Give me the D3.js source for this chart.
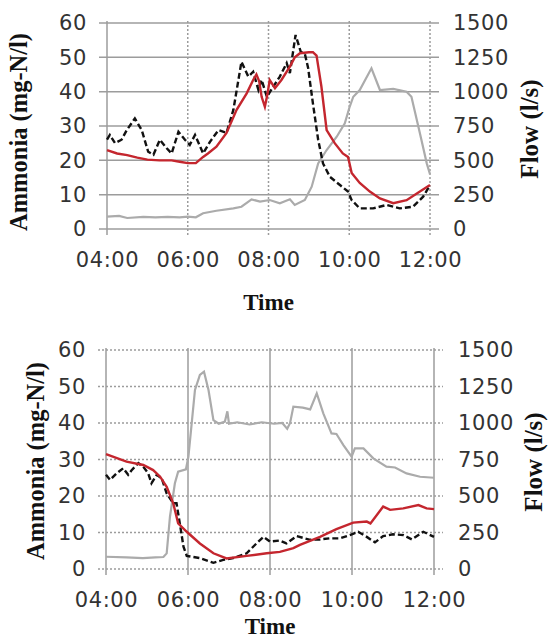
<!DOCTYPE html>
<html>
<head>
<meta charset="utf-8">
<script src="https://cdn.jsdelivr.net/npm/d3@7"></script>
<style>
  body { margin: 0; background: #fff; }
  .tick text { font-family: "DejaVu Sans", Verdana, sans-serif; font-size: 21px; fill: #333; letter-spacing: 0.6px; }
  .title { font-family: "Liberation Serif", "Times New Roman", serif; font-weight: bold; fill: #111; }
</style>
</head>
<body>
<svg id="chart" width="549" height="641"></svg>
<script>
// time in clock hours
var timeTicks = [4, 6, 8, 10, 12];
var timeLabels = ["04:00", "06:00", "08:00", "10:00", "12:00"];
var ammoniaTicks = [0, 10, 20, 30, 40, 50, 60];
var flowTicks = [0, 250, 500, 750, 1000, 1250, 1500];

// top panel
var topRed = [[4.0,23],[4.25,22],[4.5,21.5],[4.75,20.8],[5.0,20.2],[5.3,20],[5.6,20],[5.8,19.6],[6.0,19.2],[6.2,19.2],
  [6.38,21],[6.5,22],[6.71,24],[6.96,28],[7.21,34.7],[7.46,39.5],[7.62,43.4],[7.70,45],[7.77,43],[7.83,38.5],[7.91,35.6],
  [7.97,39],[8.03,43.4],[8.16,41],[8.32,43.4],[8.53,47.3],[8.65,50],[8.78,51.2],[9.0,51.5],[9.1,51.5],[9.19,50.5],
  [9.31,41.5],[9.44,28.8],[9.64,25],[9.84,22],[9.97,21],[10.06,16.3],[10.26,13.4],[10.51,10.9],[10.76,8.9],[11.09,7.5],
  [11.42,8.4],[11.75,10.9],[12.0,12.8]];
var topBlack = [[4.0,26],[4.07,27.4],[4.2,25],[4.36,26],[4.49,28.8],[4.69,32.2],[4.86,28.8],[5.02,22.5],[5.15,21.6],
  [5.31,26],[5.48,23.5],[5.6,22],[5.77,28.3],[5.93,26],[6.05,24.5],[6.18,27.4],[6.38,22],[6.55,25.4],[6.76,28.8],[6.96,28],
  [7.13,34.7],[7.33,48.7],[7.5,44.4],[7.62,45.8],[7.75,40.5],[7.83,43.4],[7.96,38.5],[8.12,41.5],[8.28,44.4],[8.45,48.3],
  [8.53,45.4],[8.67,56.5],[8.8,51.6],[8.9,51],[8.98,47],[9.1,36.6],[9.23,26],[9.35,19.1],[9.52,15.2],[9.77,12.8],
  [9.97,10.9],[10.06,8.4],[10.26,6],[10.59,6],[10.92,7],[11.25,6],[11.58,6.5],[11.83,9.4],[12.0,12.8]];
var topFlow = [[4.0,90],[4.3,95],[4.5,80],[4.9,88],[5.2,85],[5.5,88],[5.8,85],[6.0,90],[6.2,85],[6.38,115],[6.71,133],
  [7.13,150],[7.33,162],[7.58,216],[7.79,199],[8.03,211],[8.28,187],[8.53,216],[8.65,175],[8.9,211],[9.07,308],[9.23,478],
  [9.44,575],[9.69,672],[9.89,770],[10.01,890],[10.1,963],[10.26,1012],[10.55,1170],[10.76,1012],[11.09,1020],[11.42,1000],
  [11.54,963],[11.75,697],[11.92,478],[12.0,400]];

// bottom panel
var botRed = [[4.0,31.5],[4.5,29.4],[4.91,28.5],[5.15,27.1],[5.32,25.3],[5.48,22.5],[5.64,18],[5.76,12.5],[5.97,10.2],
  [6.29,7],[6.62,4.3],[6.94,2.9],[7.43,3.6],[7.92,4.3],[8.24,4.7],[8.57,5.7],[8.73,6.6],[9.22,8.8],[9.62,10.9],[10.03,12.7],
  [10.36,13],[10.45,12.5],[10.76,17.1],[10.93,16.2],[11.25,16.6],[11.62,17.5],[11.82,16.6],[12.0,16.4]];
var botBlack = [[4.0,25.8],[4.1,24.4],[4.26,26.2],[4.42,27.6],[4.54,25.8],[4.62,27],[4.79,29],[4.91,28],[5.03,26.2],
  [5.11,23.5],[5.24,25.8],[5.36,24.8],[5.48,20.7],[5.64,18],[5.72,18],[5.8,12.5],[5.89,6.1],[5.97,3.6],[6.29,3],[6.62,1.7],
  [6.86,2.5],[7.1,3],[7.43,4.3],[7.67,7],[7.84,8.8],[8.0,7.5],[8.24,7.8],[8.4,7],[8.65,9],[8.98,8],[9.22,8.1],[9.46,8.4],
  [9.71,8.4],[9.95,9.3],[10.15,10.2],[10.36,8.8],[10.56,7.3],[10.76,9],[11.0,9.5],[11.25,9.3],[11.46,8.1],[11.74,10.2],[12.0,8.8]];
var botFlow = [[4.0,84],[4.5,80],[4.9,75],[5.2,80],[5.4,82],[5.48,107],[5.56,358],[5.68,587],[5.76,667],[5.95,683],
  [6.01,769],[6.09,998],[6.17,1226],[6.29,1329],[6.39,1351],[6.5,1226],[6.62,1020],[6.75,995],[6.9,1010],[6.96,1080],
  [7.0,995],[7.2,1005],[7.5,990],[7.8,1005],[8.1,995],[8.3,1000],[8.42,960],[8.49,1000],[8.57,1112],[8.8,1105],[8.98,1093],
  [9.14,1203],[9.3,1066],[9.5,929],[9.62,925],[9.79,849],[9.99,769],[10.07,826],[10.28,826],[10.52,758],[10.84,701],
  [11.05,695],[11.33,655],[11.66,632],[12.0,625]];

var svg = d3.select("#chart");

function drawPanel(p) {
  var x = d3.scaleLinear().domain([4, 12]).range([p.left, p.right]);
  var y = d3.scaleLinear().domain([0, 60]).range([p.bottom, p.top]);
  var y2 = d3.scaleLinear().domain([0, 1500]).range([p.bottom, p.top]);
  var g = svg.append("g");

  // horizontal grid
  g.selectAll(".hgrid").data(ammoniaTicks).enter().append("line")
    .attr("x1", p.left - 8).attr("x2", p.right + 9)
    .attr("y1", d => y(d)).attr("y2", d => y(d))
    .attr("stroke", "#9c9c9c").attr("stroke-width", 1.5)
    .attr("stroke-dasharray", p.hDash);

  // vertical grid
  g.selectAll(".vgrid").data(timeTicks).enter().append("line")
    .attr("x1", d => x(d)).attr("x2", d => x(d))
    .attr("y1", p.top - 2).attr("y2", p.bottom + 6)
    .attr("stroke", "#9c9c9c").attr("stroke-width", 1.5)
    .attr("stroke-dasharray", d => d === 4 ? null : p.vDash);

  var xAxis = g.append("g").attr("transform", "translate(0," + p.bottom + ")")
    .call(d3.axisBottom(x).tickValues(timeTicks).tickFormat((d, i) => timeLabels[i]).tickSize(0));
  xAxis.selectAll("text").attr("y", 38).attr("dy", null);

  var yAxis = g.append("g").attr("transform", "translate(" + p.left + ",0)")
    .call(d3.axisLeft(y).tickValues(ammoniaTicks).tickSize(0).tickPadding(20));

  var y2Axis = g.append("g").attr("transform", "translate(" + p.right + ",0)")
    .call(d3.axisRight(y2).tickValues(flowTicks).tickFormat(d3.format("d")).tickSize(0).tickPadding(p.rightPad));

  [xAxis, yAxis, y2Axis].forEach(a => a.select(".domain").remove());

  var line = d3.line().x(d => x(d[0])).y(d => y(d[1]));
  var line2 = d3.line().x(d => x(d[0])).y(d => y2(d[1]));

  g.append("path").datum(p.flow).attr("d", line2)
    .attr("fill", "none").attr("stroke", "#ababab").attr("stroke-width", 2.2);
  g.append("path").datum(p.black).attr("d", line)
    .attr("fill", "none").attr("stroke", "#111").attr("stroke-width", 2.4)
    .attr("stroke-dasharray", "6,3");
  g.append("path").datum(p.red).attr("d", line)
    .attr("fill", "none").attr("stroke", "#c4262e").attr("stroke-width", 2.4);

  g.append("text").attr("class", "title")
    .attr("transform", "translate(" + p.yTitleX + "," + p.yTitleY + ") rotate(-90)")
    .attr("text-anchor", "middle").style("font-size", "24.5px")
    .text("Ammonia (mg-N/l)");
  g.append("text").attr("class", "title")
    .attr("transform", "translate(" + p.y2TitleX + "," + p.y2TitleY + ") rotate(-90)")
    .attr("text-anchor", "middle").style("font-size", "25px")
    .text("Flow (l/s)");
  g.append("text").attr("class", "title")
    .attr("x", (p.left + p.right) / 2).attr("y", p.xTitleY)
    .attr("text-anchor", "middle").style("font-size", "23px")
    .text("Time");
}

drawPanel({ left: 107, right: 430, top: 23, bottom: 229, hDash: null, vDash: "2,2", rightPad: 23,
  red: topRed, black: topBlack, flow: topFlow,
  yTitleX: 27, yTitleY: 132, y2TitleX: 538, y2TitleY: 129, xTitleY: 310 });

drawPanel({ left: 106, right: 434, top: 350, bottom: 569, hDash: "2,2", vDash: null, rightPad: 24,
  red: botRed, black: botBlack, flow: botFlow,
  yTitleX: 44, yTitleY: 461, y2TitleX: 542, y2TitleY: 462, xTitleY: 634 });
</script>
</body>
</html>
